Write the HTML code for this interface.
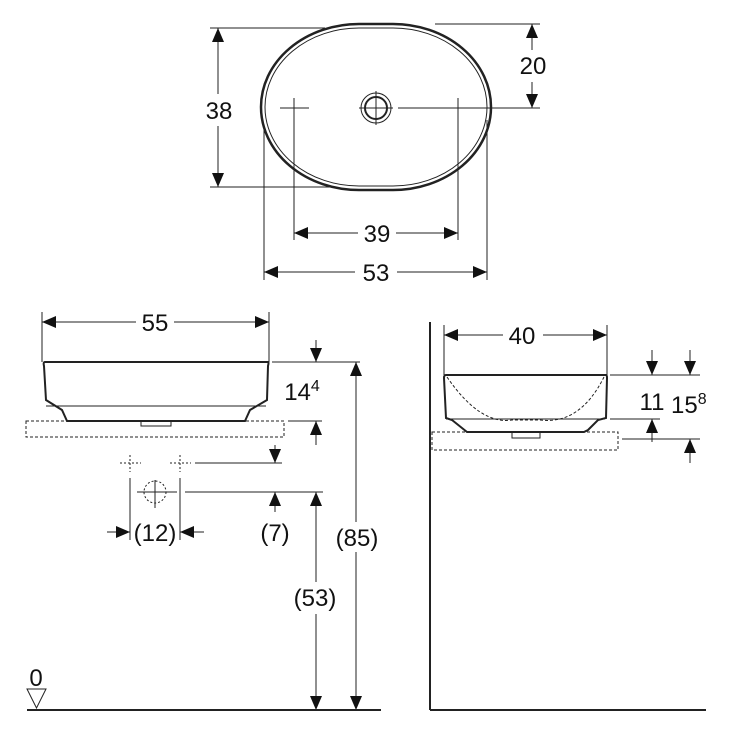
<!DOCTYPE html>
<html><head><meta charset="utf-8"><style>
html,body{margin:0;padding:0;background:#fff}
svg{display:block}
text{font-family:"Liberation Sans",sans-serif;fill:#111}
</style></head><body>
<svg width="737" height="737" viewBox="0 0 737 737" xmlns="http://www.w3.org/2000/svg">
<defs>
<marker id="a" markerUnits="userSpaceOnUse" markerWidth="14" markerHeight="12" refX="14" refY="6" orient="auto"><path d="M0,0 L14,6 L0,12 Z" fill="#111"/></marker>
</defs>
<g stroke="#222" stroke-width="1" fill="none">
<!-- TOP VIEW -->
<rect x="261" y="24" width="230" height="166" rx="98" ry="83" stroke-width="2.5"/>
<rect x="265" y="28" width="222" height="158" rx="94" ry="79" stroke-width="1"/>
<circle cx="376" cy="108" r="15"/>
<circle cx="376" cy="108" r="11" stroke-width="2"/>
<line x1="376" y1="91" x2="376" y2="125"/>
<line x1="359" y1="108" x2="393" y2="108"/>
<line x1="398" y1="108" x2="540" y2="108"/>
<line x1="280" y1="108" x2="309" y2="108"/>
<line x1="294" y1="98" x2="294" y2="240"/>
<line x1="448" y1="108" x2="468" y2="108"/>
<line x1="458" y1="98" x2="458" y2="240"/>
<line x1="264" y1="130" x2="264" y2="280"/>
<line x1="487" y1="120" x2="487" y2="280"/>
<line x1="210" y1="28" x2="325" y2="28"/>
<line x1="210" y1="187" x2="330" y2="187"/>
<line x1="435" y1="24" x2="540" y2="24"/>
<line x1="218" y1="94" x2="218" y2="28" marker-end="url(#a)"/>
<line x1="218" y1="126" x2="218" y2="187" marker-end="url(#a)"/>
<line x1="532" y1="50" x2="532" y2="24" marker-end="url(#a)"/>
<line x1="532" y1="82" x2="532" y2="108" marker-end="url(#a)"/>
<line x1="358" y1="233" x2="294" y2="233" marker-end="url(#a)"/>
<line x1="396" y1="233" x2="458" y2="233" marker-end="url(#a)"/>
<line x1="355" y1="272" x2="264" y2="272" marker-end="url(#a)"/>
<line x1="397" y1="272" x2="487" y2="272" marker-end="url(#a)"/>

<!-- FRONT VIEW -->
<line x1="42" y1="312" x2="42" y2="362"/>
<line x1="269" y1="312" x2="269" y2="362"/>
<line x1="136" y1="322" x2="42" y2="322" marker-end="url(#a)"/>
<line x1="174" y1="322" x2="269" y2="322" marker-end="url(#a)"/>
<path d="M45,362 L268,362 Q269,362 268,366 L267,400 L250,410 L245,421 L67,421 L62,410 L46,400 L44,366 Q43,362 45,362 Z" stroke-width="2"/>
<line x1="46" y1="406" x2="266" y2="406"/>
<rect x="141" y="421" width="30" height="5"/>
<rect x="26" y="421" width="258" height="16" stroke-dasharray="3,2"/>
<line x1="272" y1="362" x2="360" y2="362"/>
<line x1="288" y1="421" x2="322" y2="421"/>
<line x1="316" y1="340" x2="316" y2="362" marker-end="url(#a)"/>
<line x1="316" y1="445" x2="316" y2="421" marker-end="url(#a)"/>
<line x1="356" y1="522" x2="356" y2="362" marker-end="url(#a)"/>
<line x1="356" y1="552" x2="356" y2="710" marker-end="url(#a)"/>
<line x1="120" y1="463" x2="141" y2="463" stroke-dasharray="2,2"/>
<line x1="130" y1="455" x2="130" y2="472" stroke-dasharray="2,2"/>
<line x1="170" y1="463" x2="191" y2="463" stroke-dasharray="2,2"/>
<line x1="180" y1="455" x2="180" y2="472" stroke-dasharray="2,2"/>
<line x1="195" y1="463" x2="282" y2="463"/>
<line x1="275" y1="445" x2="275" y2="463" marker-end="url(#a)"/>
<circle cx="155" cy="492" r="11" stroke-dasharray="2,2"/>
<line x1="137" y1="492" x2="177" y2="492"/>
<line x1="155" y1="480" x2="155" y2="508"/>
<line x1="185" y1="492" x2="323" y2="492"/>
<line x1="275" y1="512" x2="275" y2="492" marker-end="url(#a)"/>
<line x1="130" y1="478" x2="130" y2="540"/>
<line x1="180" y1="478" x2="180" y2="540"/>
<line x1="107" y1="532" x2="130" y2="532" marker-end="url(#a)"/>
<line x1="204" y1="532" x2="180" y2="532" marker-end="url(#a)"/>
<line x1="316" y1="582" x2="316" y2="492" marker-end="url(#a)"/>
<line x1="316" y1="614" x2="316" y2="710" marker-end="url(#a)"/>
<line x1="27" y1="710" x2="381" y2="710" stroke-width="2"/>
<path d="M27,689 L46,689 L36.5,708 Z" stroke-width="1"/>

<!-- SIDE VIEW -->
<line x1="430" y1="322" x2="430" y2="710" stroke-width="2"/>
<line x1="430" y1="710" x2="706" y2="710" stroke-width="2"/>
<line x1="444" y1="325" x2="444" y2="375"/>
<line x1="607" y1="325" x2="607" y2="375"/>
<line x1="503" y1="335" x2="444" y2="335" marker-end="url(#a)"/>
<line x1="543" y1="335" x2="607" y2="335" marker-end="url(#a)"/>
<path d="M446,375 L606,375 Q607,375 607,378 L606,418 L598,420 L588,430 L584,432 L467,432 L462,428 L452,420 L446,418 L444,378 Q444,375 446,375 Z" stroke-width="2"/>
<line x1="446" y1="419" x2="605" y2="419"/>
<path d="M447,377 Q480,425 512,420 L540,420 Q580,425 604,377" stroke-dasharray="3,2"/>
<rect x="512" y="432" width="28" height="6"/>
<rect x="432" y="432" width="186" height="18" stroke-dasharray="3,2"/>
<line x1="610" y1="375" x2="700" y2="375"/>
<line x1="610" y1="419" x2="660" y2="419"/>
<line x1="622" y1="439" x2="700" y2="439"/>
<line x1="652" y1="350" x2="652" y2="375" marker-end="url(#a)"/>
<line x1="652" y1="442" x2="652" y2="419" marker-end="url(#a)"/>
<line x1="690" y1="350" x2="690" y2="375" marker-end="url(#a)"/>
<line x1="690" y1="463" x2="690" y2="439" marker-end="url(#a)"/>
</g>
<g font-size="24">
<text x="219" y="119" text-anchor="middle">38</text>
<text x="533" y="74" text-anchor="middle">20</text>
<text x="377" y="242" text-anchor="middle">39</text>
<text x="376" y="281" text-anchor="middle">53</text>
<text x="155" y="331" text-anchor="middle">55</text>
<text x="302" y="400" text-anchor="middle">14<tspan font-size="16" dy="-9">4</tspan></text>
<text x="155" y="541" text-anchor="middle">(12)</text>
<text x="275" y="541" text-anchor="middle">(7)</text>
<text x="357" y="546" text-anchor="middle">(85)</text>
<text x="315" y="606" text-anchor="middle">(53)</text>
<text x="36" y="686" text-anchor="middle">0</text>
<text x="522" y="344" text-anchor="middle">40</text>
<text x="652" y="410" text-anchor="middle">11</text>
<text x="671" y="413">15<tspan font-size="16" dy="-9">8</tspan></text>
</g>
</svg>
</body></html>
